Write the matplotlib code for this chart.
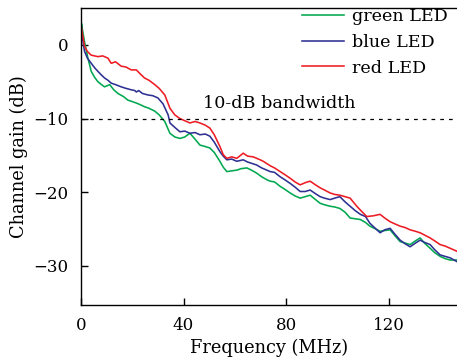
"""
Channel gain vs frequency for green / blue / red LEDs, with 10-dB bandwidth marker.
"""

import matplotlib
matplotlib.use("Agg")
import matplotlib.pyplot as plt

plt.rcParams["font.family"] = ["DejaVu Serif"]
plt.rcParams["font.size"] = 11.5

# ---------------------------------------------------------------------------
# Data (frequency in MHz, gain in dB)
# ---------------------------------------------------------------------------
red_f = [0, 0.3, 1.4, 2.5, 4.0, 5.3, 6.6, 8.5, 10.5, 11.8, 13.5, 15.7, 17.5,
         19.6, 21.6, 23.0, 24.8, 26.5, 28.8, 30.5, 32.7, 34.7, 36.6, 38.6,
         40.5, 42.5, 44.5, 46.4, 48.5, 50.3, 52.0, 54.2, 55.5, 56.9, 58.8,
         60.8, 63.3, 65.0, 67.2, 69.9, 71.1, 73.8, 75.5, 77.7, 79.5, 81.6,
         83.5, 85.5, 87.5, 89.4, 91.5, 93.3, 95.0, 97.2, 99.0, 101.0, 103.0,
         105.0, 107.6, 109.5, 111.5, 114.0, 116.7, 118.5, 120.6, 122.5,
         124.5, 126.5, 128.4, 130.5, 132.3, 134.0, 136.2, 138.0, 140.1,
         142.0, 144.0, 146.6]
red_db = [3.0, 2.0, -0.2, -0.9, -1.4, -1.5, -1.6, -1.5, -1.8, -2.5, -2.3,
          -2.9, -3.0, -3.4, -3.4, -3.9, -4.5, -4.8, -5.4, -5.9, -6.8, -8.6,
          -9.5, -10.0, -10.3, -10.6, -10.4, -10.6, -10.9, -11.3, -12.2, -13.8,
          -14.9, -15.4, -15.2, -15.4, -14.7, -15.1, -15.2, -15.6, -15.8,
          -16.4, -16.7, -17.2, -17.6, -18.1, -18.6, -19.0, -18.7, -18.5,
          -19.0, -19.4, -19.7, -20.1, -20.3, -20.4, -20.6, -20.8, -21.9,
          -22.6, -23.3, -23.2, -23.0, -23.5, -24.0, -24.3, -24.6, -24.8,
          -25.1, -25.3, -25.5, -25.8, -26.2, -26.6, -27.1, -27.3, -27.6,
          -28.0]

blue_f = [0, 0.3, 1.4, 2.5, 4.0, 5.3, 6.6, 8.0, 9.2, 10.5, 11.8, 13.5, 15.7,
          17.5, 19.6, 21.0, 21.6, 22.5, 24.0, 26.1, 28.0, 30.0, 32.0, 34.0,
          34.7, 36.6, 38.6, 40.5, 42.5, 44.5, 46.4, 48.5, 50.3, 52.0, 54.2,
          55.5, 56.9, 58.8, 60.8, 63.3, 65.0, 68.5, 70.5, 72.5, 73.8, 75.5,
          77.7, 79.5, 81.6, 83.5, 85.5, 87.5, 89.4, 91.5, 93.3, 95.0, 97.2,
          99.0, 101.0, 103.0, 105.0, 107.0, 109.0, 111.0, 112.7, 114.5,
          116.7, 118.5, 120.6, 122.5, 124.5, 126.5, 128.4, 130.5, 132.3,
          134.0, 136.2, 138.0, 140.1, 142.0, 144.0, 146.6]
blue_db = [2.7, 1.5, -0.9, -1.8, -2.5, -3.1, -3.6, -4.1, -4.5, -4.8, -5.2,
           -5.4, -5.7, -5.9, -6.1, -6.2, -6.4, -6.2, -6.6, -6.8, -6.9, -7.2,
           -8.0, -9.5, -10.6, -11.2, -11.8, -11.7, -12.0, -11.9, -12.2, -12.1,
           -12.4, -13.2, -14.5, -15.1, -15.6, -15.5, -15.8, -15.6, -15.9,
           -16.3, -16.7, -17.0, -17.2, -17.3, -17.9, -18.3, -18.8, -19.3,
           -19.9, -19.9, -19.7, -20.2, -20.6, -20.8, -21.0, -20.8, -20.6,
           -21.3, -21.9, -22.5, -23.0, -23.3, -24.2, -24.8, -25.5, -25.1,
           -24.9, -25.7, -26.5, -27.0, -27.4, -26.9, -26.5, -26.8, -27.1,
           -27.8, -28.5, -28.7, -28.9, -29.4]

green_f = [0, 0.2, 0.5, 1.4, 2.7, 4.0, 5.3, 6.6, 8.0, 9.2, 11.2, 12.8, 14.4,
           16.5, 18.3, 20.0, 21.6, 23.0, 24.8, 26.5, 28.8, 30.5, 32.7, 34.7,
           36.6, 38.6, 40.5, 42.5, 44.5, 46.4, 48.5, 50.3, 52.0, 54.2, 55.5,
           56.9, 58.8, 60.8, 62.5, 64.7, 66.5, 68.5, 70.5, 72.5, 73.8, 75.5,
           77.7, 79.5, 81.6, 83.5, 85.5, 87.5, 89.4, 91.5, 93.3, 95.0, 97.2,
           99.0, 101.0, 103.0, 105.0, 107.0, 109.0, 111.0, 112.7, 114.5,
           116.7, 118.5, 120.6, 122.5, 124.5, 126.5, 128.4, 130.5, 132.3,
           134.0, 136.2, 138.0, 140.1, 142.0, 144.0, 146.6]
green_db = [-1.5, 2.9, 2.2, 0.4, -1.8, -3.6, -4.4, -5.0, -5.4, -5.7, -5.4,
            -6.1, -6.6, -7.0, -7.5, -7.7, -7.9, -8.1, -8.4, -8.6, -9.0, -9.5,
            -10.4, -12.0, -12.5, -12.7, -12.5, -12.0, -12.8, -13.6, -13.8,
            -14.0, -14.6, -15.8, -16.6, -17.2, -17.1, -17.0, -16.8, -16.7,
            -17.0, -17.4, -17.9, -18.3, -18.5, -18.6, -19.2, -19.6, -20.1,
            -20.5, -20.8, -20.6, -20.4, -21.0, -21.5, -21.7, -21.9, -22.0,
            -22.2, -22.7, -23.5, -23.6, -23.7, -24.1, -24.6, -24.9, -25.3,
            -25.2, -25.1, -25.9, -26.7, -26.9, -27.1, -26.6, -26.2, -26.9,
            -27.6, -28.2, -28.7, -29.0, -29.2, -29.2]

SERIES = [
    ("green LED", green_f, green_db, "#00a84f"),
    ("blue LED", blue_f, blue_db, "#2e3192"),
    ("red LED", red_f, red_db, "#ed1c24"),
]

BANDWIDTH_LEVEL = -10
X_TICKS = [0, 40, 80, 120]
Y_TICKS = [0, -10, -20, -30]

# ---------------------------------------------------------------------------
# Plot
# ---------------------------------------------------------------------------
fig = plt.figure(figsize=(4.57, 3.62), dpi=100)
ax = fig.add_axes([0.1772, 0.1575, 0.8228, 0.8204])

for label, f, db, color in SERIES:
    ax.plot(f, db, color=color, linewidth=1.15, label=label)

ax.axhline(BANDWIDTH_LEVEL, color="black", linestyle=(0, (3, 4)), linewidth=0.9)
ax.text(47.5, BANDWIDTH_LEVEL + 2.0, "10-dB bandwidth", ha="left",
        va="center", fontsize=12.6)

ax.set_xlim(0, 146.7)
ax.set_ylim(-35.3, 5.0)
ax.set_xticks(X_TICKS)
ax.set_yticks(Y_TICKS)
ax.set_yticklabels([f"{v}".replace("-", "\u2212") for v in Y_TICKS])
ax.tick_params(direction="in", length=5, width=1.0, pad=9, labelsize=12)
ax.spines["right"].set_visible(False)
for s in ("left", "bottom", "top"):
    ax.spines[s].set_linewidth(1.0)

ax.set_xlabel("Frequency (MHz)", labelpad=3, fontsize=12.8)
ax.set_ylabel("Channel gain (dB)", labelpad=4, fontsize=12.8)

ax.legend(loc="upper right", bbox_to_anchor=(0.975, 1.0), frameon=False,
          handlelength=2.4, handletextpad=0.45, labelspacing=0.5,
          borderaxespad=0.0, borderpad=0.0, fontsize=12.6)

fig.savefig("out.png", dpi=100)
